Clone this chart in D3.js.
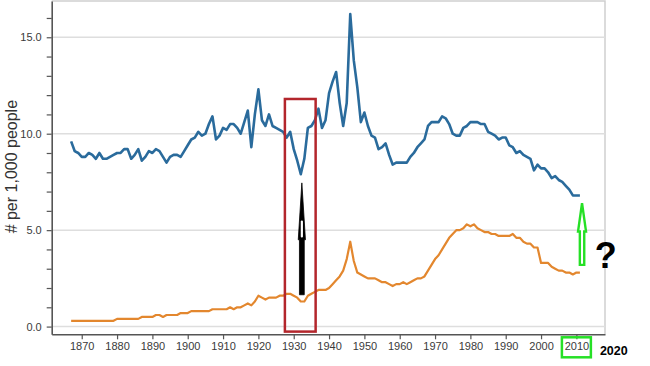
<!DOCTYPE html>
<html>
<head>
<meta charset="utf-8">
<script src="https://cdn.jsdelivr.net/npm/d3@7"></script>
<style>
  html, body { margin: 0; padding: 0; background: #fff; }
  svg { display: block; font-family: "Liberation Sans", Arial, Helvetica, sans-serif; }
</style>
</head>
<body>
<svg id="chart" width="650" height="366"></svg>
<script>
// ---- data ----
const startYear = 1867;
const yearTicks = [1870, 1880, 1890, 1900, 1910, 1920, 1930, 1940, 1950, 1960, 1970, 1980, 1990, 2000, 2010];
const valueTicks = [0, 1, 2, 3, 4, 5, 6, 7, 8, 9, 10, 11, 12, 13, 14, 15, 16];
const yLabel = "# per 1,000 people";

// marriage rate (blue), 1867-2011
const marriage = [
  9.6, 9.1, 9.0,                                         // 1867-1869
  8.8, 8.8, 9.0, 8.9, 8.7, 9.0, 8.7, 8.7, 8.8, 8.9,      // 1870s
  9.0, 9.0, 9.2, 9.2, 8.7, 8.9, 9.2, 8.6, 8.8, 9.1,      // 1880s
  9.0, 9.2, 9.1, 8.8, 8.5, 8.8, 8.9, 8.9, 8.8, 9.1,      // 1890s
  9.4, 9.7, 9.8, 10.1, 9.9, 10.0, 10.5, 10.9, 9.7, 9.9,  // 1900s
  10.3, 10.2, 10.5, 10.5, 10.3, 10.0, 10.6, 11.2, 9.3, 11.0, // 1910s
  12.3, 10.7, 10.4, 11.0, 10.4, 10.3, 10.2, 10.1, 9.8, 10.1, // 1920s
  9.2, 8.6, 7.9, 8.7, 10.3, 10.4, 10.7, 11.3, 10.3, 10.7,    // 1930s
  12.1, 12.7, 13.2, 11.6, 10.4, 11.6, 16.2, 13.8, 12.4, 10.6, // 1940s
  11.1, 10.4, 9.9, 9.8, 9.2, 9.3, 9.5, 8.9, 8.4, 8.5,        // 1950s
  8.5, 8.5, 8.5, 8.8, 9.0, 9.3, 9.5, 9.7, 10.4, 10.6,        // 1960s
  10.6, 10.6, 10.9, 10.8, 10.5, 10.0, 9.9, 9.9, 10.3, 10.4,  // 1970s
  10.6, 10.6, 10.6, 10.5, 10.5, 10.1, 10.0, 9.9, 9.7, 9.8,   // 1980s
  9.8, 9.4, 9.3, 9.0, 9.1, 8.9, 8.8, 8.7, 8.1, 8.4,          // 1990s
  8.2, 8.2, 8.0, 7.7, 7.8, 7.6, 7.5, 7.3, 7.1, 6.8,          // 2000s
  6.8, 6.8                                                   // 2010-2011
];

// divorce rate (orange), 1867-2011
const divorce = [
  0.3, 0.3, 0.3,                                         // 1867-1869
  0.3, 0.3, 0.3, 0.3, 0.3, 0.3, 0.3, 0.3, 0.3, 0.3,      // 1870s
  0.4, 0.4, 0.4, 0.4, 0.4, 0.4, 0.4, 0.5, 0.5, 0.5,      // 1880s
  0.5, 0.6, 0.6, 0.5, 0.6, 0.6, 0.6, 0.6, 0.7, 0.7,      // 1890s
  0.7, 0.8, 0.8, 0.8, 0.8, 0.8, 0.8, 0.9, 0.9, 0.9,      // 1900s
  0.9, 0.9, 1.0, 0.9, 1.0, 1.0, 1.1, 1.2, 1.1, 1.3,      // 1910s
  1.6, 1.5, 1.4, 1.5, 1.5, 1.5, 1.6, 1.6, 1.7, 1.7,      // 1920s
  1.6, 1.5, 1.3, 1.3, 1.6, 1.7, 1.8, 1.9, 1.9, 1.9,      // 1930s
  2.0, 2.2, 2.4, 2.6, 2.9, 3.5, 4.4, 3.4, 2.8, 2.7,      // 1940s
  2.6, 2.5, 2.5, 2.5, 2.4, 2.3, 2.3, 2.2, 2.1, 2.2,      // 1950s
  2.2, 2.3, 2.2, 2.3, 2.4, 2.5, 2.5, 2.6, 2.9, 3.2,      // 1960s
  3.5, 3.7, 4.0, 4.3, 4.6, 4.8, 5.0, 5.0, 5.1, 5.3,      // 1970s
  5.2, 5.3, 5.1, 5.0, 4.9, 4.9, 4.8, 4.8, 4.7, 4.7,      // 1980s
  4.7, 4.7, 4.8, 4.6, 4.6, 4.4, 4.3, 4.3, 4.1, 4.1,      // 1990s
  3.3, 3.3, 3.3, 3.1, 3.0, 2.9, 2.9, 2.8, 2.8, 2.7,      // 2000s
  2.8, 2.8                                               // 2010-2011
];

const years = marriage.map((_, i) => startYear + i);

// ---- layout ----
const svg = d3.select("#chart");
const plotLeft = 51.7, plotRight = 605, plotTop = 1, plotBottom = 334.3;

const x = d3.scaleLinear().domain([1861.5, 2018.1]).range([plotLeft, plotRight]);
const y = d3.scaleLinear().domain([-0.4, 16.88]).range([plotBottom, plotTop]);

// frame (top and right light border)
svg.append("path")
  .attr("d", `M${plotLeft},${plotTop}H${plotRight}V${plotBottom}`)
  .attr("fill", "none").attr("stroke", "#cfcfcf").attr("stroke-width", 1.5);

// gridlines
svg.append("g").selectAll("line")
  .data(valueTicks.filter(v => v % 5 === 0))
  .join("line")
  .attr("x1", plotLeft).attr("x2", plotRight)
  .attr("y1", d => y(d)).attr("y2", d => y(d))
  .attr("stroke", "#dedede").attr("stroke-width", 1.5);

// axes
const yAxis = svg.append("g")
  .attr("transform", `translate(${plotLeft},0)`)
  .call(d3.axisLeft(y).tickValues(valueTicks).tickSize(5).tickSizeOuter(0).tickPadding(5)
    .tickFormat(d => d % 5 === 0 ? d.toFixed(1) : ""));
const xAxis = svg.append("g")
  .attr("transform", `translate(0,${plotBottom})`)
  .call(d3.axisBottom(x).tickValues(yearTicks).tickSize(5).tickSizeOuter(0).tickPadding(3)
    .tickFormat(d => String(d)));

[yAxis, xAxis].forEach(a => {
  a.select(".domain").attr("stroke", "#555").attr("stroke-width", 1.6);
  a.selectAll(".tick line").attr("stroke", "#555").attr("stroke-width", 1.2);
  a.selectAll(".tick text").attr("fill", "#3a3a3a")
    .style("font-size", "11px").style("font-family", "'Liberation Sans', Arial, sans-serif");
});

// y label
svg.append("text")
  .attr("transform", `translate(16.5,${(y(16.88) + y(-0.4)) / 2 - 1}) rotate(-90)`)
  .attr("text-anchor", "middle")
  .attr("fill", "#333")
  .style("font-size", "16px")
  .text(yLabel);

// lines
const line = d3.line().x((d, i) => x(years[i])).y(d => y(d));
svg.append("path").datum(divorce)
  .attr("d", line).attr("fill", "none")
  .attr("stroke", "#e3872e").attr("stroke-width", 2.2).attr("stroke-linejoin", "round");
svg.append("path").datum(marriage)
  .attr("d", line).attr("fill", "none")
  .attr("stroke", "#2a6b9c").attr("stroke-width", 2.6).attr("stroke-linejoin", "round");

// ---- annotations ----
// red box around the Depression years
svg.append("rect")
  .attr("x", x(1927.5)).attr("y", y(11.8))
  .attr("width", x(1936.2) - x(1927.5)).attr("height", y(-0.26) - y(11.8))
  .attr("fill", "none").attr("stroke", "#b3262c").attr("stroke-width", 2.5);

// black up arrow
const bx = x(1932.3);
svg.append("path")
  .attr("d", `M${bx},${y(7.45)} L${bx + 3.6},${y(4.5)} L${bx + 2.4},${y(4.5)} L${bx + 2.4},${y(1.65)}
              L${bx - 2.4},${y(1.65)} L${bx - 2.4},${y(4.5)} L${bx - 3.6},${y(4.5)} Z`)
  .attr("fill", "#000").attr("stroke", "#000").attr("stroke-width", 0.8);
svg.append("rect")
  .attr("x", bx - 1.1).attr("y", y(5.5)).attr("width", 2.2).attr("height", y(4.62) - y(5.5))
  .attr("rx", 1).attr("fill", "#fff");

// green hollow up arrow
const gx = x(2011.6);
svg.append("path")
  .attr("d", `M${gx},${y(6.4)} L${gx + 4},${y(4.93)} L${gx + 2.2},${y(4.93)} L${gx + 2.2},${y(3.2)}
              L${gx - 2.2},${y(3.2)} L${gx - 2.2},${y(4.93)} L${gx - 4},${y(4.93)} Z`)
  .attr("fill", "#fff").attr("stroke", "#26e026").attr("stroke-width", 2.4).attr("stroke-linejoin", "miter");

// question mark
svg.append("text")
  .attr("x", x(2018.3)).attr("y", y(3.05))
  .attr("text-anchor", "middle").attr("font-weight", "bold")
  .attr("fill", "#000").style("font-size", "36px")
  .text("?");

// green box around 2010 label
svg.append("rect")
  .attr("x", x(2005.9)).attr("y", plotBottom + 3)
  .attr("width", x(2014.1) - x(2005.9)).attr("height", 20)
  .attr("fill", "none").attr("stroke", "#26e026").attr("stroke-width", 2.5);

// 2020 label
svg.append("text")
  .attr("x", x(2020.6)).attr("y", plotBottom + 21)
  .attr("text-anchor", "middle").attr("font-weight", "bold")
  .attr("fill", "#000").style("font-size", "12.5px")
  .text("2020");
</script>
</body>
</html>
